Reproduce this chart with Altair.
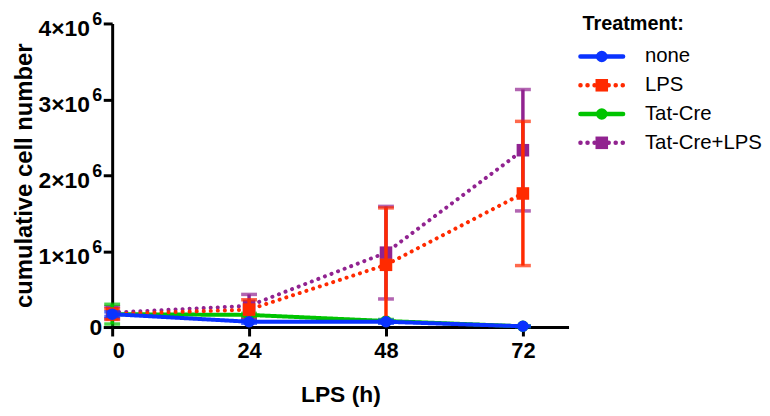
import altair as alt
import pandas as pd

hours = [0, 24, 48, 72]
treatments = ["none", "LPS", "Tat-Cre", "Tat-Cre+LPS"]
colors = ["#0A33FF", "#FF2A00", "#00C400", "#912390"]
shapes = ["circle", "square", "circle", "square"]
dotted = [False, True, False, True]

y_ticks = [0, 1e6, 2e6, 3e6, 4e6]

none_mean = [0.17e6, 0.07e6, 0.07e6, 0.01e6]
none_sd = [0.03e6, 0.02e6, 0.02e6, 0.005e6]
lps_mean = [0.17e6, 0.23e6, 0.82e6, 1.76e6]
lps_sd = [0.07e6, 0.13e6, 0.75e6, 0.95e6]
tat_mean = [0.17e6, 0.16e6, 0.08e6, 0.01e6]
tat_sd = [0.13e6, 0.02e6, 0.02e6, 0.005e6]
tatlps_mean = [0.19e6, 0.28e6, 0.98e6, 2.33e6]
tatlps_sd = [0.08e6, 0.15e6, 0.61e6, 0.80e6]

means = [none_mean, lps_mean, tat_mean, tatlps_mean]
sds = [none_sd, lps_sd, tat_sd, tatlps_sd]

FONT = "Liberation Sans"
draw_order = [3, 2, 1, 0]  # blue drawn last (on top)

xscale = alt.Scale(domain=[0, 80], nice=False, zero=False)
yscale = alt.Scale(domain=[0, 4e6], nice=False)

xaxis = alt.Axis(values=hours, title="LPS (h)", labelFont=FONT, titleFont=FONT,
                 labelFontSize=22, titleFontSize=23, labelFontWeight="bold",
                 titleFontWeight="bold", domainColor="black", domainWidth=3,
                 tickColor="black", tickWidth=3, tickSize=9, labelColor="black",
                 titleColor="black", labelPadding=5, titlePadding=22, grid=False)
yaxis = alt.Axis(values=y_ticks, title="cumulative cell number",
                 labelExpr="datum.value == 0 ? '' : format(datum.value/1e6, 'd') + '×10'",
                 labelFont=FONT, titleFont=FONT, labelFontSize=23, titleFontSize=24,
                 labelFontWeight="bold", titleFontWeight="bold", domainColor="black",
                 domainWidth=3, tickColor="black", tickWidth=3, tickSize=9,
                 labelColor="black", titleColor="black", labelPadding=14,
                 labelOffset=5, titlePadding=2, grid=False)


def mark_size(shape):
    return 160 if shape == "square" else 135


layers = []
for i in draw_order:
    df = pd.DataFrame({
        "hours": hours,
        "mean": means[i],
        "lo": [m - s for m, s in zip(means[i], sds[i])],
        "hi": [m + s for m, s in zip(means[i], sds[i])],
        "treatment": treatments[i],
    })
    base = alt.Chart(df)
    line = base.mark_line(color=colors[i], strokeWidth=4,
                          strokeDash=[0.1, 7] if dotted[i] else [1, 0],
                          strokeCap="round").encode(
        x=alt.X("hours:Q", scale=xscale, axis=xaxis),
        y=alt.Y("mean:Q", scale=yscale, axis=yaxis),
    )
    rule = base.mark_rule(color=colors[i], strokeWidth=3.5).encode(
        x="hours:Q", y="lo:Q", y2="hi:Q")
    cap_hi = base.mark_tick(color=colors[i], thickness=3.5, size=16,
                            orient="horizontal").encode(x="hours:Q", y="hi:Q")
    cap_lo = base.mark_tick(color=colors[i], thickness=3.5, size=16,
                            orient="horizontal").encode(x="hours:Q", y="lo:Q")
    pts = base.mark_point(shape=shapes[i], filled=True, opacity=1, color=colors[i],
                          size=mark_size(shapes[i])).encode(x="hours:Q", y="mean:Q")
    layers += [line, rule, cap_hi, cap_lo, pts]

# y tick label pieces: superscript "6" and the zero label
sup_df = pd.DataFrame({"v": [t for t in y_ticks if t > 0]})
zero_df = pd.DataFrame({"v": [0]})
sup = alt.Chart(sup_df).mark_text(
    text="6", align="right", baseline="middle", dx=-10, dy=-3, font=FONT,
    fontSize=18, fontWeight="bold", color="black").encode(
    x=alt.datum(0), y="v:Q")
zero = alt.Chart(zero_df).mark_text(
    text="0", align="right", baseline="middle", dx=-10, dy=1, font=FONT,
    fontSize=23, fontWeight="bold", color="black").encode(
    x=alt.datum(0), y="v:Q")
layers += [sup, zero]

main = alt.layer(*layers).properties(width=460, height=306)

# legend panel
leg_rows = list(range(len(treatments)))
leg_lines = []
for k, t in enumerate(treatments):
    leg_lines.append({"treatment": t, "lx": 0, "row": k})
    leg_lines.append({"treatment": t, "lx": 43, "row": k})
leg_df = pd.DataFrame(leg_lines)
leg_pts = pd.DataFrame({"treatment": treatments, "lx": [21.5] * 4,
                        "tx": [65] * 4, "row": leg_rows})
title_df = pd.DataFrame({"label": ["Treatment:"], "tx": [2], "row": [-0.93]})

lx = alt.Scale(domain=[0, 180], nice=False, zero=False)
ly = alt.Scale(domain=[-1.148, 9.404], nice=False, zero=False, reverse=True)

leg_layers = []
for k, t in enumerate(treatments):
    sub = leg_df[leg_df.treatment == t]
    leg_layers.append(alt.Chart(sub).mark_line(
        color=colors[k], strokeWidth=4.5,
        strokeDash=[0.1, 7] if dotted[k] else [1, 0], strokeCap="round").encode(
        x=alt.X("lx:Q", scale=lx, axis=None),
        y=alt.Y("row:Q", scale=ly, axis=None)))
    psub = leg_pts[leg_pts.treatment == t]
    leg_layers.append(alt.Chart(psub).mark_point(
        shape=shapes[k], filled=True, opacity=1, color=colors[k],
        size=mark_size(shapes[k])).encode(
        x=alt.X("lx:Q", scale=lx, axis=None),
        y=alt.Y("row:Q", scale=ly, axis=None)))
leg_layers.append(alt.Chart(leg_pts).mark_text(
    align="left", baseline="middle", font=FONT, fontSize=20.5, color="black").encode(
    x=alt.X("tx:Q", scale=lx, axis=None),
    y=alt.Y("row:Q", scale=ly, axis=None),
    text="treatment:N"))
leg_layers.append(alt.Chart(title_df).mark_text(
    align="left", baseline="alphabetic", font=FONT, fontSize=20, fontWeight="bold",
    color="black").encode(
    x=alt.X("tx:Q", scale=lx, axis=None),
    y=alt.Y("row:Q", scale=ly, axis=None),
    text="label:N"))

legend = alt.layer(*leg_layers).properties(width=180, height=306)

chart = alt.hconcat(main, legend, spacing=3).configure(
    background="white",
    padding={"left": 4, "top": 2, "right": 0, "bottom": 0},
    view=alt.ViewConfig(stroke=None),
)

chart.save("out.html", embed_options={"renderer": "svg", "actions": False})
